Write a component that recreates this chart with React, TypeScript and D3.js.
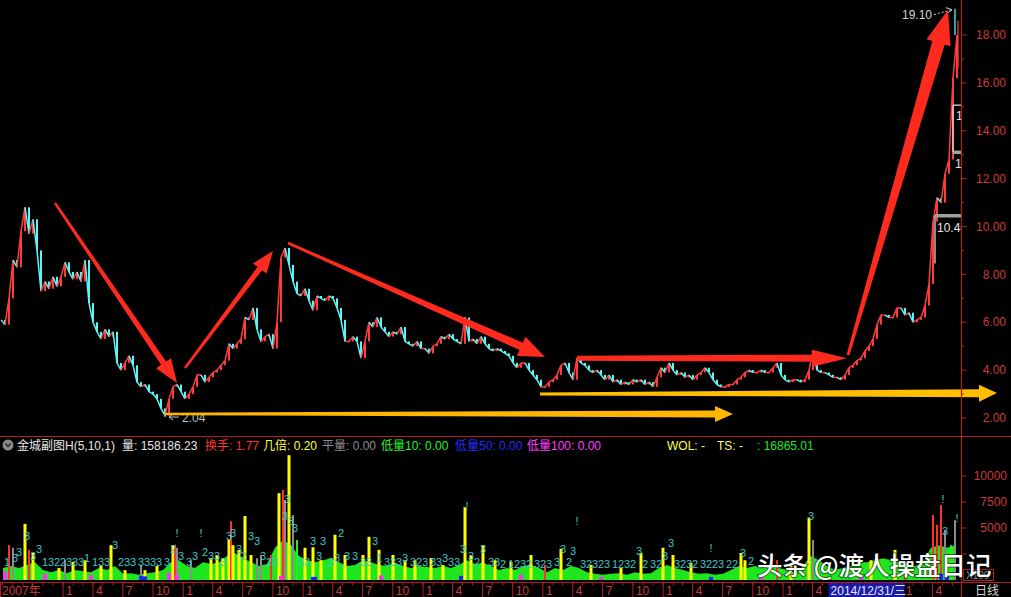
import React from "react";
import * as d3 from "d3";

// Daily closes, one value per pair of trading slots (slot = 2 * index)
const closes: number[] = [
  6.1, 5.9, 7.0, 8.6, 8.3, 9.8, 10.8, 9.7, 10.3, 9.0,
  7.3, 7.7, 7.4, 7.9, 7.5, 7.9, 8.5, 8.1, 7.8, 8.1,
  7.7, 8.6, 6.8, 6.0, 5.6, 5.3, 5.7, 5.4, 5.6, 4.3,
  4.0, 4.3, 4.6, 4.2, 3.5, 3.3, 3.4, 3.1, 3.0, 2.8,
  2.4, 2.1, 2.8, 3.3, 3.4, 3.1, 2.8, 3.0, 3.3, 3.8,
  3.8, 3.5, 3.7, 3.9, 4.0, 4.2, 4.4, 5.1, 4.9, 5.1,
  5.3, 6.2, 6.1, 6.6, 5.7, 5.2, 5.4, 5.5, 4.9, 6.0,
  8.7, 9.1, 8.4, 7.7, 7.2, 7.1, 7.4, 6.9, 6.5, 7.1,
  7.0, 6.9, 7.1, 7.0, 6.6, 6.1, 5.2, 5.2, 5.4, 5.2,
  4.5, 5.2, 6.0, 5.8, 6.2, 5.8, 5.6, 5.4, 5.6, 5.5,
  5.8, 5.2, 5.1, 5.0, 5.2, 4.9, 4.9, 4.7, 5.0, 5.1,
  5.4, 5.3, 5.5, 5.3, 5.2, 5.1, 6.2, 5.2, 5.3, 5.1,
  5.4, 5.1, 4.9, 4.8, 4.9, 4.8, 4.7, 4.6, 4.3, 4.1,
  4.3, 4.3, 4.0, 3.8, 3.6, 3.3, 3.3, 3.5, 3.6, 3.8,
  4.2, 4.3, 3.9, 3.6, 4.5, 4.3, 4.2, 4.0, 3.9, 4.0,
  3.8, 3.6, 3.8, 3.5, 3.6, 3.4, 3.5, 3.4, 3.6, 3.5,
  3.6, 3.4, 3.5, 3.3, 3.7, 4.1, 3.9, 4.3, 4.0, 3.8,
  3.9, 3.7, 3.8, 3.6, 3.8, 3.9, 4.1, 3.9, 3.6, 3.4,
  3.3, 3.3, 3.4, 3.4, 3.6, 3.7, 3.9, 4.0, 3.9, 3.9,
  4.0, 3.9, 3.9, 4.1, 4.3, 3.8, 3.6, 3.5, 3.6, 3.6,
  3.5, 3.6, 4.0, 4.8, 4.0, 3.9, 3.9, 3.8, 3.7, 3.7,
  3.6, 3.8, 4.1, 4.2, 4.4, 4.5, 4.8, 5.0, 5.3, 5.9,
  6.3, 6.3, 6.2, 6.2, 6.6, 6.6, 6.3, 6.4, 6.0, 6.1,
  6.2, 6.7, 7.6, 10.2, 11.2, 11.0, 12.2, 12.8, 16.2, 18.0,
];

// Marked extremes (slot, price)
const extremes = [
  { slot: 82, value: 2.04 },
  { slot: 477, value: 19.1 },
];

// Price gaps left open in the 2015 run
const gaps = [
  { slot: 467, low: 8.45, high: 10.46 },
  { slot: 476, low: 13.11, high: 15.07 },
];

const priceTicks = [2, 4, 6, 8, 10, 12, 14, 16, 18];
const volumeTicks = [5000, 7500, 10000];

// Volume (x100 shares), base mass every 4 slots
const volBase: number[] = [
  1150, 1350, 1150, 1450, 1700, 950, 750, 950, 650, 950,
  850, 750, 1150, 950, 1350, 600, 650, 500, 650, 750,
  950, 1700, 1900, 1350, 1150, 1700, 1550, 1700, 2300, 2600,
  2100, 1700, 1350, 1550, 3100, 3850, 3350, 2300, 1900, 1700,
  1900, 2100, 1700, 1350, 1450, 1900, 1700, 1450, 1350, 1650,
  1350, 1150, 1350, 1250, 1150, 1350, 1150, 1450, 1900, 1550,
  1650, 1350, 950, 1150, 950, 1350, 1450, 1150, 750, 1150,
  950, 1350, 1150, 750, 600, 500, 600, 650, 500, 750,
  600, 650, 1150, 1450, 1150, 950, 750, 600, 650, 500,
  600, 950, 1350, 1150, 1350, 1150, 1350, 1150, 950, 750,
  1350, 2300, 1900, 1350, 950, 1150, 1350, 1700, 1700, 1900,
  2100, 1900, 1700, 1550, 1350, 1700, 3100, 3350, 3100, 3350,
];

// Individual volume bars: [slot, volume, colour key]
const volSpikes: [number, number, string][] = [
  [4, 3350, "r"], [6, 3100, "k"], [12, 5400, "y"], [14, 2900, "r"], [16, 2600, "y"],
  [29, 1150, "y"], [32, 1900, "k"], [36, 1750, "y"], [42, 1900, "y"], [50, 1350, "y"],
  [55, 3350, "y"], [62, 950, "y"], [70, 1450, "k"], [72, 950, "y"], [78, 1350, "y"],
  [86, 3350, "y"], [87, 3400, "r"], [88, 3100, "k"], [95, 1900, "k"], [105, 2100, "y"],
  [108, 2400, "y"], [111, 2100, "y"], [114, 3850, "y"], [115, 5650, "r"], [116, 3350, "y"],
  [119, 2900, "y"], [122, 6150, "y"], [125, 2400, "y"], [128, 2100, "k"], [130, 2400, "k"],
  [135, 2400, "r"], [139, 8350, "y"], [141, 8650, "r"], [142, 7700, "k"], [144, 12000, "y"],
  [146, 6250, "k"], [148, 3850, "g"], [152, 3100, "y"], [156, 3150, "y"], [160, 1900, "y"],
  [167, 4350, "y"], [172, 2400, "y"], [181, 2400, "y"], [184, 4150, "y"], [189, 2900, "y"],
  [196, 2400, "y"], [202, 1900, "y"], [207, 1900, "y"], [215, 2100, "y"], [221, 1450, "y"],
  [232, 7000, "y"], [235, 2400, "y"], [241, 3350, "y"], [247, 1900, "y"], [255, 1750, "y"],
  [265, 2400, "y"], [272, 1450, "r"], [280, 3000, "y"], [295, 1450, "y"], [310, 1150, "y"],
  [320, 2600, "y"], [331, 3100, "y"], [336, 2400, "y"], [345, 1650, "y"], [370, 2600, "y"],
  [372, 1900, "y"], [388, 1900, "r"], [395, 1450, "y"], [404, 6000, "y"], [406, 3850, "k"],
  [435, 1900, "y"], [447, 2900, "y"], [452, 950, "r"], [466, 6250, "r"], [468, 5300, "r"],
  [470, 7200, "r"], [472, 4800, "k"], [475, 3350, "g"], [477, 5750, "k"],
];

// Low-volume markers along the floor: [slot, volume, colour key]
const volFloor: [number, number, string][] = [
  [2, 800, "m"], [22, 600, "m"], [45, 500, "m"], [70, 400, "b"], [72, 350, "b"],
  [84, 700, "m"], [88, 500, "m"], [140, 400, "m"], [156, 300, "b"], [157, 300, "b"],
  [190, 450, "m"], [230, 400, "b"], [260, 500, "m"], [300, 300, "m"], [355, 300, "b"],
  [380, 300, "m"], [430, 400, "m"], [470, 600, "b"], [473, 400, "b"],
];

// Signal tags printed above the volume bars: [slot, volume level, text]
const volTags: [number, number, string][] = [
  [3, 1350, "1"], [7, 1730, "3"], [9, 2310, "3"], [13, 3850, "3"], [16, 1920, "3"],
  [19, 2600, "3"], [22, 1350, "1"], [25, 1350, "3"], [28, 1350, "2"], [31, 1350, "2"],
  [34, 1350, "3"], [37, 1350, "3"], [40, 1350, "3"], [43, 1730, "1"], [47, 1350, "1"],
  [50, 1350, "3"], [53, 1350, "3"], [57, 2980, "3"], [60, 1350, "2"], [63, 1350, "3"],
  [66, 1350, "3"], [70, 1350, "3"], [73, 1350, "3"], [76, 1350, "3"], [79, 1350, "3"],
  [83, 1350, "3"], [86, 2600, "2"], [88, 4130, "!"], [90, 1920, "3"], [94, 1350, "3"],
  [97, 1920, "3"], [100, 4130, "!"], [102, 2310, "2"], [105, 1920, "3"], [108, 1920, "3"],
  [111, 1350, "3"], [114, 3850, "3"], [116, 4130, "3"], [119, 2600, "3"], [121, 1920, "2"],
  [125, 3850, "3"], [128, 3370, "3"], [131, 1920, "3"], [134, 1350, "2"], [137, 1350, "3"],
  [142, 5770, "3"], [143, 7400, "3"], [145, 5290, "3"], [147, 4620, "3"], [150, 1350, "3"],
  [153, 1350, "3"], [156, 3370, "3"], [159, 1920, "3"], [161, 3370, "3"], [165, 1350, "3"],
  [168, 1730, "3"], [170, 4130, "2"], [173, 1920, "3"], [177, 1920, "3"], [181, 1350, "3"],
  [184, 1350, "3"], [187, 3370, "3"], [189, 1730, "1"], [193, 1350, "3"], [196, 1350, "3"],
  [199, 1350, "3"], [202, 1730, "3"], [206, 1350, "3"], [209, 1350, "2"], [212, 1350, "3"],
  [216, 1350, "3"], [219, 1350, "3"], [222, 1730, "3"], [225, 1350, "3"], [228, 1350, "3"],
  [231, 2600, "3"], [233, 6730, "!"], [235, 1920, "3"], [238, 1350, "2"], [241, 2600, "3"],
  [245, 1350, "3"], [248, 1350, "3"], [251, 1150, "2"], [255, 1150, "1"], [258, 1150, "2"],
  [261, 1150, "3"], [264, 1150, "2"], [268, 1150, "3"], [271, 1150, "2"], [274, 1150, "3"],
  [278, 1350, "3"], [281, 2600, "3"], [284, 1350, "2"], [286, 2400, "3"], [288, 5290, "!"],
  [291, 1150, "3"], [294, 1150, "2"], [297, 1150, "3"], [300, 1150, "2"], [303, 1150, "3"],
  [307, 1150, "1"], [310, 1150, "2"], [313, 1150, "3"], [316, 1150, "2"], [319, 2400, "3"],
  [322, 1150, "2"], [326, 1150, "3"], [329, 1150, "2"], [332, 1920, "3"], [335, 3170, "3"],
  [338, 1150, "3"], [341, 1150, "2"], [344, 1150, "3"], [347, 1150, "2"], [351, 1150, "3"],
  [354, 1150, "2"], [355, 2690, "!"], [357, 1150, "2"], [360, 1150, "3"], [364, 1150, "2"],
  [367, 1150, "2"], [371, 2210, "3"], [375, 1440, "2"],
  [405, 5770, "3"],
  [471, 7400, "!"], [472, 4330, "3"], [478, 5580, "!"],
];

// Hand-drawn trend arrows, anchored in (slot, price) space
const trendArrows = [
  { from: [27, 10.98], to: [88, 3.46], color: "#ff2a1e", w0: 2.5, w1: 6, head: 24, headW: 18 },
  { from: [92, 4.09], to: [136, 8.98], color: "#ff2a1e", w0: 2.5, w1: 5.5, head: 22, headW: 17 },
  { from: [143.5, 9.31], to: [272, 4.55], color: "#ff2a1e", w0: 2.5, w1: 8, head: 26, headW: 21 },
  { from: [288, 4.5], to: [423, 4.5], color: "#ff2a1e", w0: 5, w1: 7, head: 35, headW: 17 },
  { from: [423.5, 4.63], to: [473.5, 19.04], color: "#ff2a1e", w0: 3, w1: 13, head: 34, headW: 25 },
  { from: [82, 2.17], to: [366, 2.17], color: "#ffb600", w0: 2.5, w1: 7, head: 18, headW: 16 },
  { from: [269.5, 3.0], to: [498, 3.04], color: "#ffbe00", w0: 3, w1: 8, head: 18, headW: 17 },
];

const cursorDate = new Date(2014, 11, 31);
const cursorLabel = "2014/12/31/三";

const COL: Record<string, string> = {
  y: "#ffff00", r: "#ff3232", k: "#8c8c8c", g: "#1ff01f", b: "#2222ff", m: "#ff30ff",
};

const AXIS_RED = "#b41e1e";
const LABEL_RED = "#cc3a3a";
const NUM_FONT = "'Liberation Sans', Arial, 'Noto Sans CJK SC', sans-serif";
const CJK_FONT = "'Noto Sans CJK SC', 'Liberation Sans', sans-serif";

function arrowPath(x0: number, y0: number, x1: number, y1: number,
  w0: number, w1: number, head: number, headW: number): string {
  const dx = x1 - x0, dy = y1 - y0, L = Math.hypot(dx, dy);
  const ux = dx / L, uy = dy / L, nx = -uy, ny = ux;
  const bx = x1 - ux * head, by = y1 - uy * head;
  const pts: [number, number][] = [
    [x0 + nx * w0 / 2, y0 + ny * w0 / 2],
    [bx + nx * w1 / 2, by + ny * w1 / 2],
    [bx + nx * headW / 2, by + ny * headW / 2],
    [x1, y1],
    [bx - nx * headW / 2, by - ny * headW / 2],
    [bx - nx * w1 / 2, by - ny * w1 / 2],
    [x0 - nx * w0 / 2, y0 - ny * w0 / 2],
  ];
  return (d3.line()(pts) || "") + "Z";
}

export default function App() {
  const W = 1011, H = 597;
  const axisX = 961;
  const paneSplit = 436.5;
  const timeAxisY = 582.5;
  const dateBase = 594.5;

  const x = d3.scaleLinear().domain([0, 479]).range([1, 959]);
  const xTime = d3.scaleTime()
    .domain([new Date(2007, 5, 23), new Date(2015, 5, 27)])
    .range([0, axisX]);
  const yP = d3.scaleLinear().domain([2, 18]).range([418, 35]);
  const yV = d3.scaleLinear().domain([0, 10000]).range([580, 476]);

  const pts = closes.map((c, i) => [x(i * 2), yP(c)] as [number, number]);

  const baseArea = d3.area<number>()
    .x((_, j) => x(4 * j + 1))
    .y0(yV(0))
    .y1((d) => yV(d))(volBase) || "";

  const cursorRight = xTime(cursorDate) + 2;
  const cursorLeft = cursorRight - 76;

  // quarter labels hidden behind the cursor date box are not drawn
  const quarterTicks = d3.timeMonth.every(3)!
    .range(new Date(2008, 0, 1), new Date(2015, 5, 1))
    .filter((d) => xTime(d) < cursorLeft - 8 || xTime(d) > cursorRight - 4);
  const monthTicks = d3.timeMonth.range(new Date(2007, 6, 1), new Date(2015, 5, 27));
  const minorPrice = d3.range(2, 19);
  const minorVol = d3.range(2500, 10001, 2500);

  const low = extremes[0];
  const high = extremes[1];
  const lowX = x(low.slot), lowY = yP(low.value);
  const highX = x(high.slot), highY = yP(high.value);

  return (
    <svg width={W} height={H} style={{ position: "absolute", left: 0, top: 0, display: "block" }}>
      <defs>
        <clipPath id="pricePane">
          <rect x={0} y={0} width={axisX} height={436} />
        </clipPath>
        <clipPath id="volPane">
          <rect x={0} y={437} width={axisX} height={145} />
        </clipPath>
      </defs>
      <rect x={0} y={0} width={W} height={H} fill="#000" />

      {/* ---------- price pane ---------- */}
      <g clipPath="url(#pricePane)">
        {pts.slice(1).map((p, k) => {
          const q = pts[k];
          const up = closes[k + 1] >= closes[k];
          const col = up ? "#ff3c3c" : "#5cf6f6";
          return (
            <g key={"c" + k}>
              <line x1={q[0]} y1={q[1]} x2={p[0]} y2={p[1]} stroke={col} strokeWidth={1.5} />
              <rect x={p[0] - 1} width={2} y={Math.min(p[1], q[1])}
                height={Math.max(1, Math.abs(p[1] - q[1]))} fill={col} />
            </g>
          );
        })}
        {/* wicks reaching the marked extremes */}
        <line x1={lowX} x2={lowX} y1={yP(closes[41])} y2={lowY} stroke="#5cf6f6" strokeWidth={1.3} />
        <line x1={highX} x2={highX} y1={yP(closes[239])} y2={highY} stroke="#5cf6f6" strokeWidth={1.3} />
        <line x1={highX + 3} x2={highX + 3} y1={yP(16.6)} y2={yP(18.6)} stroke="#ff3c3c" strokeWidth={1.3} />

        {/* open gaps */}
        {gaps.map((g, k) => {
          const gx = x(g.slot);
          return (
            <g key={"g" + k}>
              <line x1={gx} x2={gx} y1={yP(g.high)} y2={yP(g.low)} stroke="#e8e8e8" strokeWidth={1.2} />
              {k === 0 ? (
                <>
                  <rect x={gx} y={yP(g.high) - 1.5} width={axisX - gx} height={3.5} fill="#a0a0a0" />
                  <text x={gx + 2} y={yP(g.high) + 17} fontSize={12} fill="#e8e8e8" fontFamily={NUM_FONT}>
                    {g.high.toFixed(2)}
                  </text>
                </>
              ) : (
                <>
                  <line x1={gx} x2={axisX} y1={yP(g.high)} y2={yP(g.high)} stroke="#e8e8e8" strokeWidth={1.2} />
                  <rect x={gx} y={yP(g.low) - 1.5} width={axisX - gx} height={3.5} fill="#a0a0a0" />
                  <text x={gx + 3} y={yP(g.high) + 15} fontSize={12} fill="#e8e8e8" fontFamily={NUM_FONT}>
                    {g.high.toFixed(2)}
                  </text>
                  <text x={gx + 2} y={yP(g.low) + 16} fontSize={12} fill="#e8e8e8" fontFamily={NUM_FONT}>
                    {g.low.toFixed(2)}
                  </text>
                </>
              )}
            </g>
          );
        })}
      </g>

      {/* extreme labels */}
      <text x={lowX + 17} y={lowY + 5} fontSize={12} fill="#bdbdbd" fontFamily={NUM_FONT}>
        {low.value.toFixed(2)}
      </text>
      <line x1={lowX + 14} x2={lowX + 4} y1={lowY} y2={lowY} stroke="#bdbdbd" strokeWidth={1} />
      <path d={`M${lowX + 8},${lowY - 3} L${lowX + 4},${lowY} L${lowX + 8},${lowY + 3}`}
        fill="none" stroke="#bdbdbd" strokeWidth={1} />
      <text x={highX - 23} y={highY + 10} fontSize={12} fill="#d4d4d4" textAnchor="end" fontFamily={NUM_FONT}>
        {high.value.toFixed(2)}
      </text>
      <line x1={highX - 21} y1={highY + 6} x2={highX - 3} y2={highY + 1}
        stroke="#d4d4d4" strokeWidth={1} strokeDasharray="2,2" />
      <path d={`M${highX - 9},${highY - 1} L${highX - 3},${highY + 1} L${highX - 8},${highY + 5}`}
        fill="none" stroke="#d4d4d4" strokeWidth={1} />

      {/* trend arrows */}
      {trendArrows.map((a, k) => (
        <path key={"a" + k}
          d={arrowPath(x(a.from[0]), yP(a.from[1]), x(a.to[0]), yP(a.to[1]), a.w0, a.w1, a.head, a.headW)}
          fill={a.color} />
      ))}

      {/* price axis */}
      {minorPrice.map((v) => (
        <line key={"pt" + v} x1={axisX} x2={axisX + (v % 2 === 0 ? 6 : 3)} y1={yP(v)} y2={yP(v)}
          stroke={AXIS_RED} strokeWidth={1} />
      ))}
      {priceTicks.map((v) => (
        <text key={"pl" + v} x={1006} y={yP(v)} dy="0.35em" textAnchor="end" fontSize={12}
          fill={LABEL_RED} fontFamily={NUM_FONT}>
          {v.toFixed(2)}
        </text>
      ))}

      {/* ---------- volume pane ---------- */}
      <g clipPath="url(#volPane)">
        <path d={baseArea} fill="#1fe61f" />
        {volSpikes.map(([s, v, c], k) => (
          <rect key={"vs" + k} x={x(s) - (c === "y" ? 1.5 : 1)} width={c === "y" ? 3 : 2}
            y={yV(v)} height={yV(0) - yV(v)} fill={COL[c]} />
        ))}
        {volFloor.map(([s, v, c], k) => (
          <rect key={"vf" + k} x={x(s) - 2} width={4} y={yV(v)} height={yV(0) - yV(v)} fill={COL[c]} />
        ))}
        {volTags.map(([s, v, t], k) => (
          <text key={"vt" + k} x={x(s)} y={yV(v)} textAnchor="middle" fontSize={11}
            fill="#3ec6c6" fontFamily={NUM_FONT}>
            {t}
          </text>
        ))}
      </g>

      {/* volume header */}
      <circle cx={8} cy={445} r={5.5} fill="#8a8a8a" />
      <path d="M5.3,443.5 L8,446.5 L10.7,443.5" fill="none" stroke="#222" strokeWidth={1.4} />
      <g fontSize={12} fontFamily={NUM_FONT}>
        <text x={17} y={449.5} fill="#e6e6e6">金城副图H(5,10,1)</text>
        <text x={122} y={449.5} fill="#e6e6e6">量: 158186.23</text>
        <text x={205} y={449.5} fill="#ff3030">换手: 1.77</text>
        <text x={263} y={449.5} fill="#ffff4a">几倍: 0.20</text>
        <text x={322} y={449.5} fill="#8c8c8c">平量: 0.00</text>
        <text x={381} y={449.5} fill="#2cf02c">低量10: 0.00</text>
        <text x={455} y={449.5} fill="#2a2aff">低量50: 0.00</text>
        <text x={527} y={449.5} fill="#ff40ff">低量100: 0.00</text>
        <text x={667} y={449.5} fill="#ffff60">WOL: -</text>
        <text x={717} y={449.5} fill="#ffff60">TS: -</text>
        <text x={757} y={449.5} fill="#2ce02c">: 16865.01</text>
      </g>

      {/* volume axis */}
      {minorVol.map((v) => (
        <line key={"vtk" + v} x1={axisX} x2={axisX + 6} y1={yV(v)} y2={yV(v)} stroke={AXIS_RED} />
      ))}
      {volumeTicks.map((v) => (
        <text key={"vl" + v} x={1007} y={yV(v)} dy="0.35em" textAnchor="end" fontSize={12}
          fill={LABEL_RED} fontFamily={NUM_FONT}>
          {v}
        </text>
      ))}
      <rect x={963.5} y={569.5} width={30} height={11} fill="none" stroke={AXIS_RED} />
      <text x={966} y={579} fontSize={10} fill="#9a9a9a" fontFamily={NUM_FONT}>X100</text>

      {/* frame lines */}
      <line x1={0} x2={W} y1={paneSplit} y2={paneSplit} stroke={AXIS_RED} strokeWidth={1.2} />
      <line x1={0} x2={W} y1={timeAxisY} y2={timeAxisY} stroke={AXIS_RED} strokeWidth={1.2} />
      <line x1={axisX + 0.5} x2={axisX + 0.5} y1={0} y2={H} stroke={AXIS_RED} strokeWidth={1.2} />

      {/* time axis */}
      {monthTicks.map((d, k) => (
        <line key={"mt" + k} x1={xTime(d)} x2={xTime(d)} y1={timeAxisY} y2={timeAxisY + 3}
          stroke={AXIS_RED} />
      ))}
      <line x1={0.5} x2={0.5} y1={timeAxisY} y2={H} stroke={AXIS_RED} />
      <text x={2} y={dateBase} fontSize={12} fill={LABEL_RED} fontFamily={NUM_FONT}>2007年</text>
      {quarterTicks.map((d, k) => (
        <g key={"qt" + k}>
          <line x1={xTime(d)} x2={xTime(d)} y1={timeAxisY} y2={H} stroke={AXIS_RED} />
          <text x={xTime(d) + 3} y={dateBase} fontSize={12} fill={LABEL_RED} fontFamily={NUM_FONT}>
            {d.getMonth() + 1}
          </text>
        </g>
      ))}
      <rect x={cursorLeft} y={583} width={76} height={14} fill="#1a1aa6" />
      <text x={cursorLeft + 2} y={dateBase} fontSize={12} fill="#e8e8ff" fontFamily={NUM_FONT}>
        {cursorLabel}
      </text>
      <text x={975} y={dateBase} fontSize={12} fill="#d8d8d8" fontFamily={CJK_FONT}>日线</text>

      {/* watermark */}
      <text x={757} y={575} fontSize={25.5} fontWeight={500} fill="#ffffff" fontFamily={CJK_FONT}
        stroke="rgba(0,0,0,0.55)" strokeWidth={2} style={{ paintOrder: "stroke" }}>
        头条 @渡人操盘日记
      </text>
    </svg>
  );
}
